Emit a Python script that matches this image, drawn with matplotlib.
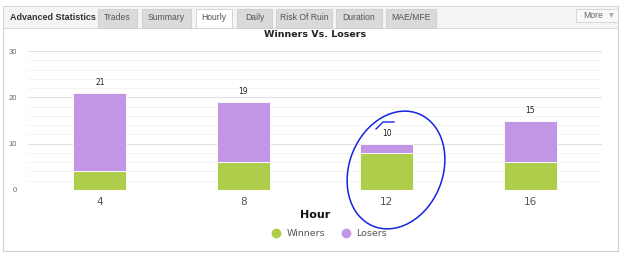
import numpy as np
import matplotlib.pyplot as plt
from matplotlib.patches import Rectangle, Ellipse
from matplotlib.lines import Line2D

# Datos
horas = ["4", "8", "12", "16"]
ganadores = [4, 6, 8, 6]
perdedores = [17, 13, 2, 9]
pestanas = ["Trades", "Summary", "Hourly", "Daily", "Risk Of Ruin", "Duration", "MAE/MFE"]

verde = "#AECD4A"
morado = "#C196E5"

plt.rcParams["font.family"] = ["Liberation Sans", "DejaVu Sans"]

W, H = 625, 260
fig = plt.figure(figsize=(W / 100, H / 100), dpi=100)
fig.patch.set_facecolor("white")


def fx(x):
    return x / W


def fy(y):
    return 1 - y / H


# Panel exterior y barra de pestañas
fig.patches.append(Rectangle((fx(3), fy(251)), fx(615), 245 / H, transform=fig.transFigure,
                             facecolor="white", edgecolor="#CFCFCF", lw=0.8, zorder=-5))
fig.patches.append(Rectangle((fx(3), fy(28)), fx(615), 22 / H, transform=fig.transFigure,
                             facecolor="#F4F4F4", edgecolor="#D5D5D5", lw=0.6, zorder=-4))
fig.text(fx(10), fy(17), "Advanced Statistics", fontsize=6.5, fontweight="bold",
         color="#333333", va="center", ha="left")
limites = [(98, 137), (142, 191), (196, 232), (237, 272), (276, 332), (336, 382), (386, 436)]
for nombre, (a, b) in zip(pestanas, limites):
    activa = nombre == "Hourly"
    fig.patches.append(Rectangle((fx(a), fy(28)), fx(b - a), 19 / H, transform=fig.transFigure,
                                 facecolor="white" if activa else "#DADADA",
                                 edgecolor="#C8C8C8", lw=0.5, zorder=-3))
    fig.text(fx((a + b) / 2), fy(18), nombre, fontsize=6.2, color="#555555",
             ha="center", va="center")
fig.patches.append(Rectangle((fx(576), fy(22)), fx(42), 13 / H, transform=fig.transFigure,
                             facecolor="#F8F8F8", edgecolor="#CCCCCC", lw=0.5, zorder=-3))
fig.text(fx(593), fy(15.5), "More", fontsize=6.2, color="#666666", ha="center", va="center")
fig.text(fx(611), fy(15.5), "\u25BC", fontsize=4.5, color="#AAAAAA", ha="center", va="center",
         family="DejaVu Sans")

# Gráfica
ax = fig.add_axes([fx(28), fy(190), fx(574), 139 / H])
ax.set_zorder(2)
ax.patch.set_alpha(0)
x = np.arange(len(horas))
ancho = 0.37
ax.bar(x, ganadores, ancho, color=verde, edgecolor="white", lw=0.6, zorder=3)
totales = [g + p for g, p in zip(ganadores, perdedores)]
ax.bar(x, perdedores, ancho, bottom=ganadores, color=morado, edgecolor="white", lw=0.6, zorder=3)
for xi, t in zip(x, totales):
    ax.text(xi, t + 1.2, str(t), ha="center", va="bottom", fontsize=5.5, color="#222222",
            family="DejaVu Sans")

ax.set_xlim(-0.5, 3.5)
ax.set_ylim(0, 30)
ax.set_yticks([0, 10, 20, 30])
ax.set_yticks(np.arange(0, 31, 2), minor=True)
ax.grid(axis="y", which="major", color="#E2E2E2", lw=0.8, zorder=0)
ax.grid(axis="y", which="minor", color="#F3F3F3", lw=0.6, zorder=0)
ax.set_xticks(x)
ax.set_xticklabels(horas, fontsize=7.5, color="#555555", family="DejaVu Sans")
ax.tick_params(axis="y", labelsize=5.5, colors="#666666", length=0, pad=8, which="both")
ax.tick_params(axis="x", length=0, pad=5)
for s in ax.spines.values():
    s.set_visible(False)
ax.set_title("Winners Vs. Losers", fontsize=6.8, fontweight="bold", color="#222222", pad=10,
             family="DejaVu Sans")
ax.set_xlabel("Hour", fontsize=8, fontweight="bold", color="#111111", labelpad=2,
              family="DejaVu Sans")

# Leyenda
manejadores = [Line2D([], [], marker="o", ls="", color=verde, markersize=6),
               Line2D([], [], marker="o", ls="", color=morado, markersize=6)]
ley = fig.legend(manejadores, ["Winners", "Losers"], loc="center", bbox_to_anchor=(fx(329), fy(234)),
                 ncol=2, frameon=False, handletextpad=0.5, columnspacing=1.6, handlelength=1.2,
                 prop={"family": "DejaVu Sans", "size": 6.8})
for t in ley.get_texts():
    t.set_color("#555555")

# Anotación a mano en azul
fig.patches.append(Ellipse((fx(396), fy(170)), fx(96), 118 / H, transform=fig.transFigure,
                           facecolor="none", edgecolor="#1424E0", lw=1.1, angle=-4, zorder=5))
fig.lines.append(Line2D([fx(376), fx(383), fx(394)], [fy(129), fy(122), fy(122)],
                        transform=fig.transFigure, color="#1424E0", lw=1.0, zorder=5))

fig.savefig("out.png", dpi=100)
